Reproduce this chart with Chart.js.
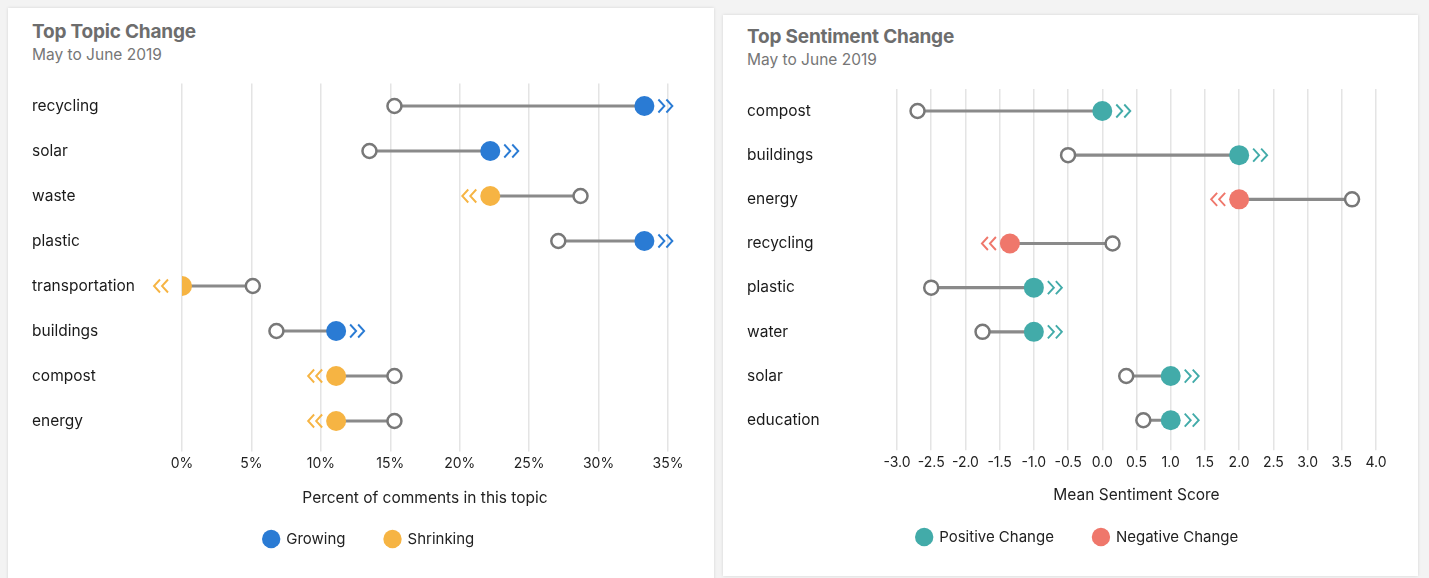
<!DOCTYPE html>
<html>
<head>
<meta charset="utf-8">
<script src="https://cdn.jsdelivr.net/npm/chart.js@4"></script>
<style>
  html, body { margin: 0; padding: 0; }
  body { width: 1429px; height: 578px; background: #f3f3f3; position: relative; overflow: hidden; font-family: Inter, "Open Sans", sans-serif; }
  .card { position: absolute; background: #fff; box-shadow: 0 0 3px rgba(0,0,0,0.13); }
  .card canvas { position: absolute; left: 0; top: 0; }
  .title { position: absolute; left: 24px; font-size: 19px; line-height: 22px; font-weight: 700; color: #6d6d6d; letter-spacing: -0.2px; }
  .sub { position: absolute; left: 24px; font-size: 15.5px; line-height: 18px; color: #767676; }
</style>
</head>
<body>
<div class="card" style="left:8px;top:8px;width:706px;height:580px;">
  <div class="title" style="top:13px;">Top Topic Change</div>
  <div class="sub" style="top:38px;">May to June 2019</div>
  <canvas id="topicChart" width="706" height="570"></canvas>
</div>
<div class="card" style="left:723px;top:15px;width:695px;height:561px;">
  <div class="title" style="top:11px;">Top Sentiment Change</div>
  <div class="sub" style="top:36px;">May to June 2019</div>
  <canvas id="sentChart" width="695" height="561"></canvas>
</div>
<script>
// topic data (percent of comments), May -> June
const topics = ['recycling', 'solar', 'waste', 'plastic', 'transportation', 'buildings', 'compost', 'energy']
const topicMay = [15.3, 13.5, 28.7, 27.1, 5.1, 6.8, 15.3, 15.3]
const topicJune = [33.3, 22.2, 22.2, 33.3, 0, 11.1, 11.1, 11.1]
const topicTicks = [0, 5, 10, 15, 20, 25, 30, 35]

// sentiment data (mean score), May -> June
const sentTopics = ['compost', 'buildings', 'energy', 'recycling', 'plastic', 'water', 'solar', 'education']
const sentMay = [-2.7, -0.5, 3.65, 0.15, -2.5, -1.75, 0.35, 0.6]
const sentJune = [0.0, 2.0, 2.0, -1.35, -1.0, -1.0, 1.0, 1.0]
const sentTicks = [-3, -2.5, -2, -1.5, -1, -0.5, 0, 0.5, 1, 1.5, 2, 2.5, 3, 3.5, 4]

const BLUE = '#2a7bd4', ORANGE = '#f6b443', TEAL = '#42aba9', CORAL = '#ef776b'
const LINE_GREY = '#8a8a8a', RING_GREY = '#787878'

Chart.defaults.font.family = 'Inter, "Open Sans", sans-serif'
Chart.defaults.font.size = 14
Chart.defaults.color = '#222'

// two small chevrons next to the "after" dot
function drawChevrons(ctx, x, y, dir, color){
  ctx.save()
  ctx.strokeStyle = color
  ctx.lineWidth = 1.9
  for (let k = 0; k < 2; k++) {
    const sx = x + dir * (14 + k * 8)
    ctx.beginPath()
    ctx.moveTo(sx, y - 6.5)
    ctx.lineTo(sx + dir * 6, y)
    ctx.lineTo(sx, y + 6.5)
    ctx.stroke()
  }
  ctx.restore()
}

const chevronPlugin = {
  id: 'chevrons',
  afterDatasetsDraw(chart){
    const ctx = chart.ctx
    chart.data.datasets.forEach((ds, i) => {
      if (!ds.chevron) return
      chart.getDatasetMeta(i).data.forEach((pt, j) => {
        if (ds.data[j] == null || !isFinite(pt.x)) return
        drawChevrons(ctx, pt.x, pt.y, ds.chevron, ds.backgroundColor)
      })
    })
  }
}

// nudge the legend sideways, it sits a bit right of centre in the original
const legendShift = {
  id: 'legendShift',
  afterLayout(chart, args, opts){
    chart.legend.left += opts.dx
    chart.legend.right += opts.dx
  }
}

function splitByDirection(before, after){
  let up = [], down = []
  after.forEach((v, i) => {
    up.push(v >= before[i] ? v : null)
    down.push(v < before[i] ? v : null)
  })
  return {up: up, down: down}
}

function buildDumbbell(canvasId, labels, before, after, cfg){
  const parts = splitByDirection(before, after)
  const ranges = labels.map((l, i) => [before[i], after[i]])

  return new Chart(document.getElementById(canvasId), {
    type: 'bar',
    data: {
      labels: labels,
      datasets: [
        {
          type: 'bar', indexAxis: 'y', data: ranges,
          backgroundColor: LINE_GREY, barThickness: 2.5, borderWidth: 0, order: 3
        },
        {
          type: 'line', indexAxis: 'y', data: before, showLine: false,
          pointRadius: 7, pointBorderWidth: 2.5, pointBorderColor: RING_GREY,
          pointBackgroundColor: '#fff', order: 2
        },
        {
          type: 'line', indexAxis: 'y', data: parts.up, showLine: false, label: cfg.upLabel,
          pointRadius: 10, pointBorderWidth: 0, pointBackgroundColor: cfg.upColor,
          backgroundColor: cfg.upColor, borderColor: cfg.upColor, chevron: 1, order: 1
        },
        {
          type: 'line', indexAxis: 'y', data: parts.down, showLine: false, label: cfg.downLabel,
          pointRadius: 10, pointBorderWidth: 0, pointBackgroundColor: cfg.downColor,
          backgroundColor: cfg.downColor, borderColor: cfg.downColor, chevron: -1, order: 1
        }
      ]
    },
    options: {
      indexAxis: 'y',
      responsive: false,
      devicePixelRatio: 1,
      animation: false,
      events: [],
      layout: { padding: cfg.padding },
      scales: {
        x: {
          type: 'linear',
          min: cfg.ticks[0],
          max: cfg.ticks[cfg.ticks.length - 1],
          afterBuildTicks: (scale) => { scale.ticks = cfg.ticks.map(v => ({value: v})) },
          ticks: { autoSkip: false, maxRotation: 0, padding: 4, callback: cfg.fmt, color: '#222' },
          grid: { color: '#e4e4e4', lineWidth: 1.5, tickLength: 8 },
          border: { display: false },
          title: { display: true, text: cfg.axisTitle, color: '#222', font: { size: 15.5 }, padding: cfg.titlePad }
        },
        y: {
          type: 'category',
          offset: true,
          grid: { display: false },
          border: { display: false },
          ticks: { crossAlign: 'far', color: '#1a1a1a', font: { size: 15.5 } },
          afterFit: (scale) => { scale.width = 150 }
        }
      },
      plugins: {
        tooltip: { enabled: false },
        legendShift: { dx: cfg.legendDx },
        legend: {
          position: 'bottom',
          labels: {
            usePointStyle: true,
            boxHeight: 13,
            padding: 10,
            color: '#222',
            font: { size: 15 },
            generateLabels: () => [
              { text: cfg.upLabel + '       ', fillStyle: cfg.upColor, strokeStyle: cfg.upColor, lineWidth: 0, pointStyle: 'circle', hidden: false, datasetIndex: 2, fontColor: '#222' },
              { text: cfg.downLabel, fillStyle: cfg.downColor, strokeStyle: cfg.downColor, lineWidth: 0, pointStyle: 'circle', hidden: false, datasetIndex: 3, fontColor: '#222' }
            ]
          }
        }
      }
    },
    plugins: [chevronPlugin, legendShift]
  })
}

buildDumbbell('topicChart', topics, topicMay, topicJune, {
  ticks: topicTicks,
  fmt: (v) => v + '%',
  axisTitle: 'Percent of comments in this topic',
  upLabel: 'Growing', downLabel: 'Shrinking',
  upColor: BLUE, downColor: ORANGE,
  padding: { left: 24, right: 46, top: 75.5, bottom: 21.5 },
  titlePad: { top: 12.4, bottom: 14.2 },
  legendDx: 19
})

buildDumbbell('sentChart', sentTopics, sentMay, sentJune, {
  ticks: sentTicks,
  fmt: (v) => v.toFixed(1),
  axisTitle: 'Mean Sentiment Score',
  upLabel: 'Positive Change', downLabel: 'Negative Change',
  upColor: TEAL, downColor: CORAL,
  padding: { left: 24, right: 42, top: 73.9, bottom: 21.5 },
  titlePad: { top: 10.8, bottom: 15 },
  legendDx: 16
})
</script>
</body>
</html>
